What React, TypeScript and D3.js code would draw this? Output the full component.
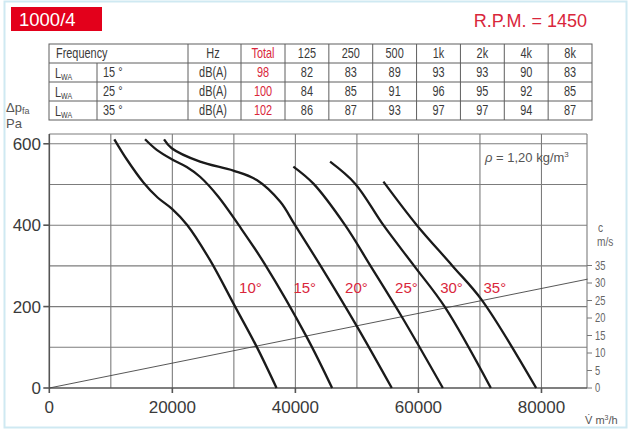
import React from 'react';
import * as d3 from 'd3';

type Pt = [number, number];

// fan curves: [airflow m3/h, static pressure Pa]
const curveAngles = ['10°', '15°', '20°', '25°', '30°', '35°'];
const curve10: Pt[] = [[10570, 611], [12580, 562], [15300, 505], [17600, 468], [19950, 440], [22440, 400], [26130, 314], [30200, 200], [33720, 101], [36940, 0]];
const curve15: Pt[] = [[15560, 611], [17460, 585], [19900, 562], [22340, 543], [24500, 519], [27480, 470], [30800, 400], [35000, 305], [41850, 125], [45970, 0]];
const curve20: Pt[] = [[18650, 611], [19900, 589], [24500, 556], [29920, 534], [33720, 511], [37510, 458], [39950, 400], [44100, 300], [49980, 152], [55670, 0]];
const curve25: Pt[] = [[39670, 544], [42930, 502], [48080, 400], [52210, 300], [57300, 175], [63970, 0]];
const curve30: Pt[] = [[45640, 556], [49710, 502], [54310, 400], [59300, 300], [64340, 198], [71770, 0]];
const curve35: Pt[] = [[54310, 507], [59740, 400], [65540, 300], [70310, 216], [79140, 0]];
const fanCurves = [curve10, curve15, curve20, curve25, curve30, curve35];
const labelFlows = [30850, 39680, 48080, 56210, 63530, 70570];
const labelPressure = 233;

// outlet velocity c (m/s) against airflow
const velocityPoints: Pt[] = [[0, 0], [87500, 31.1]];

const flowTicks = [0, 20000, 40000, 60000, 80000];
const pressureTicks = [0, 200, 400, 600];
const velocityTicks = [0, 5, 10, 15, 20, 25, 30, 35];

// sound table
const bands = ['125', '250', '500', '1k', '2k', '4k', '8k'];
const rowAngles = ['15 °', '25 °', '35 °'];
const rowTotals = ['98', '100', '102'];
const rowLevels = [
  [82, 83, 89, 93, 93, 90, 83],
  [84, 85, 91, 96, 95, 92, 85],
  [86, 87, 93, 97, 97, 94, 87],
];

const sans = '"Liberation Sans", Arial, Helvetica, sans-serif';
const red = '#d9263b';
const grid = '#7c7c7c';
const ink = '#3a3a3a';

// condensed text: no narrow font installed, so squeeze a regular one
const Narrow = ({ x, y, anchor = 'start', fill = ink, size = 14, children }: any) => (
  <text
    transform={`translate(${x},${y}) scale(0.78,1)`}
    textAnchor={anchor}
    fill={fill}
    fontSize={size}
    fontFamily={sans}
  >
    {children}
  </text>
);

export default function App() {
  const x = d3.scaleLinear().domain([0, 87400]).range([49.3, 587]);
  const y = d3.scaleLinear().domain([0, 624]).range([388, 134]);
  const c = d3.scaleLinear().domain([0, 35]).range([y(0), 265.5]);

  const fanLine = d3.line<Pt>()
    .x(d => x(d[0]))
    .y(d => y(d[1]))
    .curve(d3.curveCatmullRom.alpha(0.5));
  const velLine = d3.line<Pt>().x(d => x(d[0])).y(d => c(d[1]));

  const vGrid = d3.range(10000, 87400, 10000);
  const hGrid = d3.range(100, 624, 100);

  // table geometry
  const rowY = [44, 63, 82, 101, 120];
  const colW = (592 - 285) / bands.length;
  const bandX = bands.map((_, i) => 285 + i * colW);
  const cellMid = (i: number) => bandX[i] + colW / 2;

  return (
    <svg width={630} height={430} style={{ position: 'absolute', left: 0, top: 0, background: '#fff' }}>
      <rect x={4.5} y={1.5} width={622} height={426} fill="none" stroke="#cfe9f2" strokeWidth={2} />

      {/* title */}
      <rect x={11} y={7} width={91} height={24} fill="#e3001b" />
      <text x={19} y={26} fill="#fff" fontFamily={sans} fontSize={18.5}>1000/4</text>
      <text x={587} y={27} fill={red} fontFamily={sans} fontSize={18} textAnchor="end">R.P.M. = 1450</text>

      {/* sound table */}
      <g stroke="#5e5e5e" strokeWidth={1} fill="none">
        <rect x={49} y={rowY[0]} width={592 - 49} height={rowY[4] - rowY[0]} />
        {rowY.slice(1, 4).map(r => <line key={r} x1={49} x2={592} y1={r} y2={r} />)}
        <line x1={97} x2={97} y1={rowY[1]} y2={rowY[4]} />
        <line x1={188} x2={188} y1={rowY[0]} y2={rowY[4]} />
        <line x1={241} x2={241} y1={rowY[0]} y2={rowY[4]} />
        {bandX.map(b => <line key={b} x1={b} x2={b} y1={rowY[0]} y2={rowY[4]} />)}
      </g>
      <Narrow x={56} y={rowY[0] + 14}>Frequency</Narrow>
      <Narrow x={213} y={rowY[0] + 14} anchor="middle">Hz</Narrow>
      <Narrow x={263} y={rowY[0] + 14} anchor="middle" fill={red}>Total</Narrow>
      {bands.map((b, i) => (
        <Narrow key={b} x={cellMid(i)} y={rowY[0] + 14} anchor="middle">{b}</Narrow>
      ))}
      {rowAngles.map((a, r) => (
        <g key={a}>
          <Narrow x={55} y={rowY[r + 1] + 15}>L<tspan fontSize={9} dy={2}>WA</tspan></Narrow>
          <Narrow x={103} y={rowY[r + 1] + 14}>{a}</Narrow>
          <Narrow x={213} y={rowY[r + 1] + 14} anchor="middle">dB(A)</Narrow>
          <Narrow x={263} y={rowY[r + 1] + 14} anchor="middle" fill={red}>{rowTotals[r]}</Narrow>
          {rowLevels[r].map((v, i) => (
            <Narrow key={i} x={cellMid(i)} y={rowY[r + 1] + 14} anchor="middle">{v}</Narrow>
          ))}
        </g>
      ))}

      {/* y axis title */}
      <text x={6} y={112} fontFamily={sans} fontSize={13} fill="#555">
        Δp<tspan fontSize={9} dy={2}>fa</tspan>
      </text>
      <text x={6} y={128} fontFamily={sans} fontSize={13} fill="#555">Pa</text>

      {/* grid */}
      <g stroke={grid} strokeWidth={1.1}>
        {vGrid.map(v => <line key={v} x1={x(v)} x2={x(v)} y1={y(624)} y2={y(0)} />)}
        {hGrid.map(p => <line key={p} x1={x(0)} x2={x(87400)} y1={y(p)} y2={y(p)} />)}
        <line x1={x(0)} x2={x(87400)} y1={y(624)} y2={y(624)} />
        <line x1={x(87400)} x2={x(87400)} y1={y(624)} y2={y(0)} />
      </g>
      {/* axes */}
      <g stroke="#555" strokeWidth={1.6}>
        <line x1={x(0)} x2={x(87400)} y1={y(0)} y2={y(0)} />
        <line x1={x(0)} x2={x(0)} y1={y(624)} y2={y(0)} />
        {pressureTicks.map(p => <line key={p} x1={x(0) - 6} x2={x(0)} y1={y(p)} y2={y(p)} />)}
        {flowTicks.map(v => <line key={v} x1={x(v)} x2={x(v)} y1={y(0)} y2={y(0) + 5} />)}
      </g>
      <g fontFamily={sans} fontSize={17} fill={ink}>
        {pressureTicks.map(p => (
          <text key={p} x={41} y={y(p) + 6} textAnchor="end">{p}</text>
        ))}
        {flowTicks.map(v => (
          <text key={v} x={x(v)} y={413} textAnchor="middle">{v}</text>
        ))}
      </g>
      <text x={585} y={424} fontFamily={sans} fontSize={11} fill="#555">
        V̇ m<tspan fontSize={7} dy={-4}>3</tspan><tspan dy={4}>/h</tspan>
      </text>

      {/* velocity axis */}
      <g stroke="#777" strokeWidth={1}>
        {velocityTicks.map(t => <line key={t} x1={x(87400)} x2={x(87400) + 5} y1={c(t)} y2={c(t)} />)}
      </g>
      {velocityTicks.map(t => (
        <Narrow key={t} x={595} y={c(t) + 4} size={12} fill="#666">{t}</Narrow>
      ))}
      <Narrow x={598} y={232} size={13} fill="#666">c</Narrow>
      <Narrow x={597} y={246} size={13} fill="#666">m/s</Narrow>
      <path d={velLine(velocityPoints) ?? ''} fill="none" stroke="#444" strokeWidth={0.9} />

      {/* fan curves */}
      {fanCurves.map((pts, i) => (
        <path key={i} d={fanLine(pts) ?? ''} fill="none" stroke="#1a1a1a" strokeWidth={2.3} />
      ))}
      <g fontFamily={sans} fontSize={15} fill={red}>
        {curveAngles.map((a, i) => (
          <text key={a} x={x(labelFlows[i])} y={y(labelPressure)}>{a}</text>
        ))}
      </g>

      <text x={485} y={162} fontFamily={sans} fontSize={13} fill="#555">
        <tspan fontStyle="italic">ρ</tspan> = 1,20 kg/m<tspan fontSize={8} dy={-5}>3</tspan>
      </text>
    </svg>
  );
}
